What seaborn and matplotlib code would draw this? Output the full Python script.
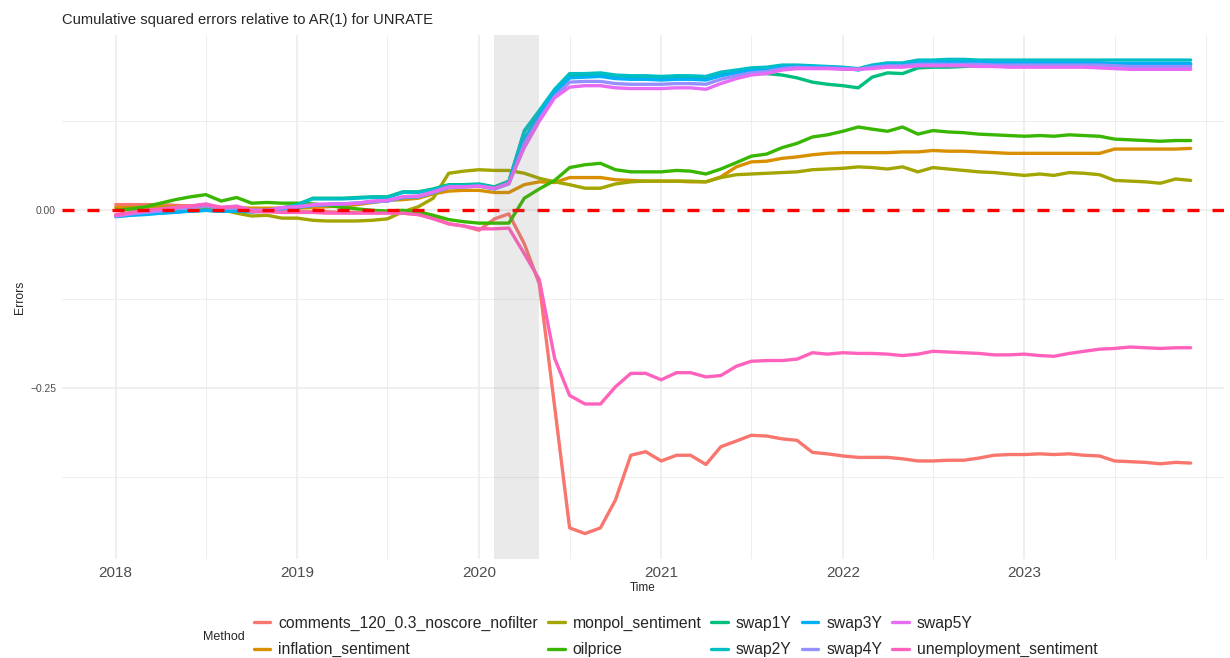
import numpy as np
import pandas as pd
import matplotlib
matplotlib.use("Agg")
import matplotlib.pyplot as plt
import matplotlib.dates as mdates
import seaborn as sns
from matplotlib.lines import Line2D

# ---------------- data ----------------
methods = ["comments_120_0.3_noscore_nofilter", "inflation_sentiment", "monpol_sentiment",
           "oilprice", "swap1Y", "swap2Y", "swap3Y", "swap4Y", "swap5Y",
           "unemployment_sentiment"]
colors = ["#F8766D", "#D89000", "#A3A500", "#39B600", "#00BF7D",
          "#00BFC4", "#00B0F6", "#9590FF", "#E76BF3", "#FF62BC"]

comments = [0.008, 0.008, 0.008, 0.008, 0.007, 0.006, 0.005, 0.003, 0.002, 0.000, -0.001, -0.002,
            -0.002, -0.002, -0.002, -0.003, -0.003, -0.003, -0.003, -0.004, -0.006, -0.010, -0.019, -0.022,
            -0.028, -0.012, -0.005, -0.047, -0.103, -0.276, -0.446, -0.454, -0.446, -0.407, -0.344, -0.339,
            -0.352, -0.344, -0.344, -0.357, -0.332, -0.324, -0.316, -0.317, -0.321, -0.323, -0.340, -0.342,
            -0.345, -0.347, -0.347, -0.347, -0.349, -0.352, -0.352, -0.351, -0.351, -0.348, -0.344, -0.343,
            -0.343, -0.342, -0.343, -0.342, -0.344, -0.345, -0.352, -0.353, -0.354, -0.356, -0.354, -0.355]
inflation = [0.004, 0.004, 0.004, 0.005, 0.005, 0.006, 0.006, 0.004, 0.004, 0.003, 0.003, 0.003,
             0.003, 0.004, 0.005, 0.006, 0.008, 0.011, 0.014, 0.015, 0.017, 0.023, 0.027, 0.028,
             0.028, 0.025, 0.025, 0.036, 0.040, 0.039, 0.046, 0.046, 0.046, 0.043, 0.042, 0.041,
             0.041, 0.041, 0.040, 0.040, 0.047, 0.061, 0.068, 0.069, 0.073, 0.075, 0.078, 0.080,
             0.081, 0.081, 0.081, 0.081, 0.082, 0.082, 0.084, 0.083, 0.083, 0.082, 0.081, 0.080,
             0.080, 0.080, 0.080, 0.080, 0.080, 0.080, 0.086, 0.086, 0.086, 0.086, 0.086, 0.087]
monpol = [0.000, 0.001, 0.002, 0.003, 0.004, 0.005, 0.004, 0.001, -0.004, -0.008, -0.007, -0.011,
          -0.011, -0.014, -0.015, -0.015, -0.015, -0.014, -0.012, -0.002, 0.005, 0.017, 0.052, 0.055,
          0.057, 0.056, 0.056, 0.052, 0.045, 0.040, 0.036, 0.031, 0.031, 0.037, 0.040, 0.041,
          0.041, 0.041, 0.041, 0.040, 0.046, 0.050, 0.051, 0.052, 0.053, 0.054, 0.057, 0.058,
          0.059, 0.061, 0.060, 0.058, 0.061, 0.054, 0.060, 0.058, 0.056, 0.054, 0.053, 0.051,
          0.049, 0.051, 0.049, 0.053, 0.052, 0.050, 0.042, 0.041, 0.040, 0.038, 0.044, 0.042]
oilprice = [0.000, 0.002, 0.005, 0.010, 0.015, 0.019, 0.022, 0.013, 0.018, 0.010, 0.011, 0.010,
            0.010, 0.009, 0.007, 0.004, 0.002, 0.000, -0.001, 0.000, -0.002, -0.007, -0.013, -0.016,
            -0.018, -0.018, -0.018, 0.017, 0.030, 0.042, 0.060, 0.064, 0.066, 0.057, 0.054, 0.054,
            0.054, 0.056, 0.055, 0.051, 0.058, 0.067, 0.076, 0.079, 0.088, 0.094, 0.103, 0.106,
            0.111, 0.117, 0.114, 0.111, 0.117, 0.107, 0.112, 0.110, 0.109, 0.107, 0.106, 0.105,
            0.104, 0.105, 0.104, 0.106, 0.105, 0.104, 0.100, 0.099, 0.098, 0.097, 0.098, 0.098]
swap1Y = [-0.008, -0.006, -0.005, -0.003, -0.002, -0.001, 0.000, -0.001, -0.001, -0.002, 0.000, 0.003,
          0.008, 0.017, 0.017, 0.017, 0.018, 0.019, 0.019, 0.026, 0.026, 0.030, 0.036, 0.036,
          0.037, 0.033, 0.041, 0.110, 0.138, 0.168, 0.188, 0.189, 0.190, 0.187, 0.186, 0.186,
          0.185, 0.186, 0.186, 0.185, 0.191, 0.194, 0.193, 0.192, 0.190, 0.186, 0.180, 0.177,
          0.175, 0.172, 0.187, 0.193, 0.192, 0.200, 0.201, 0.201, 0.202, 0.203, 0.204, 0.205,
          0.205, 0.205, 0.205, 0.205, 0.205, 0.205, 0.205, 0.205, 0.205, 0.205, 0.205, 0.205]
swap2Y = [-0.008, -0.006, -0.005, -0.004, -0.002, -0.001, 0.000, -0.001, -0.001, -0.002, 0.000, 0.003,
          0.008, 0.016, 0.016, 0.016, 0.017, 0.018, 0.018, 0.025, 0.025, 0.029, 0.035, 0.035,
          0.036, 0.032, 0.040, 0.112, 0.140, 0.170, 0.192, 0.192, 0.193, 0.190, 0.189, 0.189,
          0.188, 0.189, 0.189, 0.188, 0.194, 0.197, 0.200, 0.201, 0.204, 0.204, 0.203, 0.202,
          0.201, 0.199, 0.204, 0.207, 0.207, 0.211, 0.211, 0.212, 0.212, 0.211, 0.211, 0.211,
          0.211, 0.211, 0.211, 0.211, 0.211, 0.211, 0.211, 0.211, 0.211, 0.211, 0.211, 0.211]
swap3Y = [-0.009, -0.007, -0.006, -0.004, -0.003, -0.001, 0.000, -0.001, -0.001, -0.002, -0.001, 0.002,
          0.004, 0.007, 0.008, 0.009, 0.010, 0.012, 0.013, 0.018, 0.019, 0.025, 0.032, 0.033,
          0.034, 0.030, 0.038, 0.100, 0.133, 0.165, 0.186, 0.187, 0.188, 0.185, 0.184, 0.184,
          0.183, 0.184, 0.184, 0.183, 0.189, 0.193, 0.196, 0.197, 0.201, 0.202, 0.201, 0.201,
          0.200, 0.197, 0.202, 0.204, 0.204, 0.207, 0.208, 0.208, 0.208, 0.208, 0.207, 0.207,
          0.207, 0.207, 0.207, 0.207, 0.207, 0.207, 0.206, 0.206, 0.206, 0.206, 0.206, 0.206]
swap4Y = [-0.008, -0.005, -0.003, -0.001, 0.002, 0.004, 0.006, 0.003, 0.003, 0.000, 0.000, 0.003,
          0.005, 0.007, 0.008, 0.009, 0.010, 0.012, 0.013, 0.019, 0.019, 0.025, 0.032, 0.033,
          0.034, 0.030, 0.037, 0.094, 0.128, 0.160, 0.180, 0.181, 0.181, 0.178, 0.177, 0.177,
          0.177, 0.178, 0.178, 0.177, 0.184, 0.189, 0.193, 0.195, 0.199, 0.201, 0.200, 0.200,
          0.199, 0.198, 0.201, 0.203, 0.203, 0.205, 0.205, 0.205, 0.205, 0.205, 0.204, 0.204,
          0.204, 0.204, 0.204, 0.204, 0.204, 0.204, 0.203, 0.202, 0.202, 0.202, 0.202, 0.202]
swap5Y = [-0.008, -0.004, -0.001, 0.001, 0.004, 0.006, 0.009, 0.004, 0.006, 0.000, 0.000, 0.004,
          0.005, 0.008, 0.009, 0.009, 0.010, 0.013, 0.014, 0.019, 0.020, 0.026, 0.033, 0.033,
          0.034, 0.031, 0.038, 0.088, 0.125, 0.158, 0.173, 0.175, 0.175, 0.172, 0.171, 0.171,
          0.171, 0.172, 0.172, 0.170, 0.178, 0.185, 0.190, 0.192, 0.197, 0.199, 0.199, 0.199,
          0.198, 0.198, 0.199, 0.201, 0.201, 0.203, 0.203, 0.203, 0.203, 0.202, 0.202, 0.201,
          0.201, 0.201, 0.201, 0.201, 0.201, 0.200, 0.199, 0.198, 0.198, 0.198, 0.198, 0.198]
unemployment = [-0.006, -0.003, 0.000, 0.002, 0.004, 0.006, 0.008, 0.004, 0.005, -0.002, -0.002, -0.003,
                -0.003, -0.003, -0.004, -0.004, -0.004, -0.004, -0.004, -0.004, -0.006, -0.012, -0.019, -0.022,
                -0.026, -0.026, -0.025, -0.061, -0.097, -0.208, -0.260, -0.272, -0.272, -0.248, -0.229, -0.229,
                -0.238, -0.228, -0.228, -0.234, -0.232, -0.219, -0.212, -0.211, -0.211, -0.209, -0.200, -0.202,
                -0.200, -0.201, -0.201, -0.202, -0.204, -0.202, -0.198, -0.199, -0.200, -0.201, -0.203, -0.203,
                -0.202, -0.204, -0.205, -0.201, -0.198, -0.195, -0.194, -0.192, -0.193, -0.194, -0.193, -0.193]

series = [comments, inflation, monpol, oilprice, swap1Y, swap2Y, swap3Y, swap4Y, swap5Y, unemployment]
dates = pd.date_range("2018-01-01", periods=72, freq="MS")

recession_start = "2020-02-01"
recession_end = "2020-05-01"

year_ticks = ["2018", "2019", "2020", "2021", "2022", "2023"]
y_major = [-0.25, 0.0]
y_major_labels = ["\u22120.25", "0.00"]
y_minor = [-0.375, -0.125, 0.125]

# ---------------- build long frame ----------------
frames = []
for m, vals in zip(methods, series):
    frames.append(pd.DataFrame({"Time": dates, "Errors": vals, "Method": m}))
df = pd.concat(frames, ignore_index=True)

# ---------------- figure ----------------
sns.set_style("white")
plt.rcParams["font.family"] = ["Liberation Sans", "DejaVu Sans"]

W, H = 1230, 658
fig = plt.figure(figsize=(W / 100, H / 100), dpi=100)
ax = fig.add_axes([62 / W, 1 - 559 / H, (1224 - 62) / W, (559 - 35) / H])

palette = dict(zip(methods, colors))
sns.lineplot(data=df, x="Time", y="Errors", hue="Method", hue_order=methods,
             palette=palette, estimator=None, linewidth=2.4, legend=False, ax=ax, zorder=2)

ax.axhline(0, color="#FF0000", lw=2.4, linestyle=(0, (3.6, 3.9)), zorder=3)
ax.axvspan(pd.Timestamp(recession_start), pd.Timestamp(recession_end),
           color="#7F7F7F", alpha=0.16, lw=0, zorder=4)

# axes limits
x0 = pd.Timestamp("2018-01-01") - pd.Timedelta(days=108)
x1 = pd.Timestamp("2024-01-01") + pd.Timedelta(days=36)
ax.set_xlim(x0, x1)
ax.set_ylim(-0.4897, 0.2462)

major_x = [pd.Timestamp(y + "-01-01") for y in year_ticks]
minor_x = [pd.Timestamp(f"{y}-07-01") for y in year_ticks] + [pd.Timestamp("2024-01-01")]
ax.set_xticks(major_x)
ax.set_xticklabels(year_ticks)
ax.set_xticks(minor_x, minor=True)
ax.set_yticks(y_major)
ax.set_yticklabels(y_major_labels)
ax.set_yticks(y_minor, minor=True)

ax.grid(which="major", color="#EBEBEB", lw=1.1)
ax.grid(which="minor", color="#EBEBEB", lw=0.6)
ax.set_axisbelow(True)
for s in ax.spines.values():
    s.set_visible(False)
ax.tick_params(which="both", length=0)
ax.tick_params(axis="x", labelsize=11, labelcolor="#4D4D4D", pad=5)
ax.tick_params(axis="y", labelsize=7.4, labelcolor="#4D4D4D", pad=4.3)
ax.set_xlabel("")
ax.set_ylabel("")

fig.text(20 / W, 1 - 297 / H, "Errors", rotation=90, fontsize=8.8, ha="center", va="center")
fig.text(643 / W, 1 - 588 / H, "Time", fontsize=8.5, ha="center", va="center")
fig.text(62.5 / W, 1 - 20 / H, "Cumulative squared errors relative to AR(1) for UNRATE",
         fontsize=10.6, ha="left", va="center")

handles = [Line2D([0], [0], color=c, lw=2.4) for c in colors]
fig.legend(handles, methods, ncol=5, loc="center",
           bbox_to_anchor=(675.5 / W, 1 - 636.5 / H), frameon=False, fontsize=11.3,
           handlelength=1.07, handletextpad=0.5, columnspacing=0.63,
           labelspacing=0.72, borderpad=0, borderaxespad=0)
fig.text(203 / W, 1 - 637 / H, "Method", fontsize=9, ha="left", va="center")

fig.savefig("out.png", dpi=100)
